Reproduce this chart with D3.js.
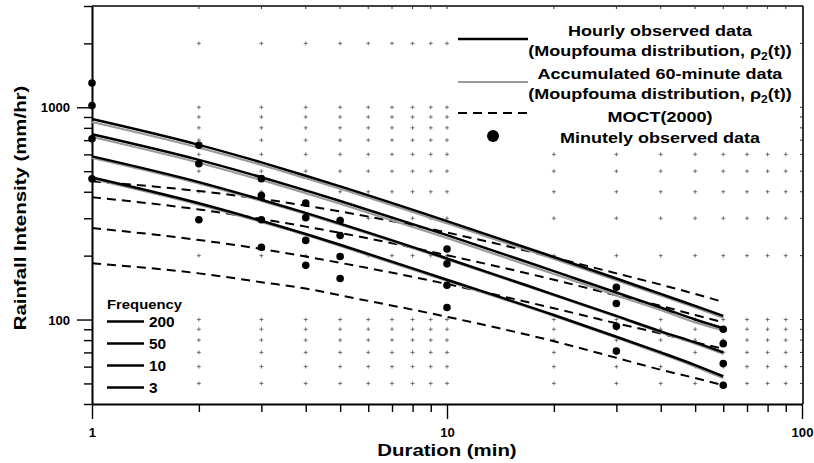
<!DOCTYPE html>
<html>
<head>
<meta charset="utf-8">
<script src="https://cdn.jsdelivr.net/npm/d3@7"></script>
<style>
  html, body { margin: 0; padding: 0; background: #fff; }
  svg { display: block; }
  text { font-family: "Liberation Sans", Arial, sans-serif; font-weight: bold; fill: #000; }
</style>
</head>
<body>
<svg id="chart" width="814" height="463"></svg>
<script>
// Durations (min) at which the curves are given
const durations = [1, 2, 3, 4, 5, 10, 20, 30, 40, 50, 60];

// Hourly observed data, Moupfouma distribution (mm/hr), by frequency
const hourly200 = [880, 665, 550, 476, 424, 291, 197, 156, 132, 116, 104];
const hourly50  = [746, 565, 468, 406, 362, 250, 169, 134, 114, 100, 91];
const hourly10  = [587, 444, 367, 318, 283, 194, 131, 104, 88, 78, 70];
const hourly3   = [467, 353, 292, 253, 225, 154, 105, 83, 70, 61, 54];

// Accumulated 60-minute data, Moupfouma distribution (mm/hr)
const accum200 = [852, 645, 535, 463, 413, 284, 193, 153, 130, 114, 102];
const accum50  = [724, 548, 454, 394, 351, 242, 164, 130, 111, 97, 89];
const accum10  = [578, 438, 362, 314, 280, 192, 130, 103, 87, 77, 69];
const accum3   = [460, 348, 288, 250, 222, 152, 104, 82, 69, 60, 53];

// MOCT(2000) curves (mm/hr)
const moct200 = [448, 403, 370, 344, 323, 257, 196, 165, 146, 132, 121];
const moct50  = [377, 330, 298, 274, 256, 201, 154, 130, 116, 105, 97];
const moct10  = [270, 237, 215, 198, 185, 147, 113, 96, 86, 78, 73];
const moct3   = [184, 165, 150, 140, 130, 103, 79, 66, 58, 53, 49];

// Minutely observed data (mm/hr); null where no point is shown
const obsDurations = [1, 2, 3, 4, 5, 10, 30, 60];
const obs200 = [1300, 662, 461, 354, 293, 215, 142, 90];
const obs50  = [1020, 542, 384, 302, 249, 183, 119, 77];
const obs10  = [710, null, 295, 236, 198, 145, 93, 62];
const obs3   = [460, 295, 219, 180, 156, 114, 71, 49];

// Axis ticks and labels
const xTicks = [1, 2, 3, 4, 5, 6, 7, 8, 9, 10, 20, 30, 40, 50, 60, 70, 80, 90, 100];
const xLabels = [1, 10, 100];
const yTicks = [40, 50, 60, 70, 80, 90, 100, 200, 300, 400, 500, 600, 700, 800, 900, 1000, 2000, 3000];
const yLabels = [100, 1000];
const frequencies = ["200", "50", "10", "3"];

const svg = d3.select("#chart");
const plotLeft = 92, plotRight = 803, plotTop = 6, plotBottom = 404;
const stretch = 1.2;   // the lettering is set slightly wide

const x = d3.scaleLog().domain([1, 100]).range([plotLeft, 802]);
const y = d3.scaleLog().domain([40, 3000]).range([plotBottom, plotTop]);

svg.append("rect").attr("width", 814).attr("height", 463).attr("fill", "#fff");

// wide bold label placed at (px, py)
function label(g, px, py, str, size, anchor, sx, rot) {
  const t = g.append("text")
    .attr("transform", `translate(${px},${py})${rot ? ` rotate(${rot})` : ""} scale(${sx},1)`)
    .attr("text-anchor", anchor || "start")
    .attr("font-size", size);
  if (str != null) t.text(str);
  return t;
}

// "+" grid markers at the interior grid intersections
const gx = xTicks.filter(d => d > 1 && d < 100);
const gy = yTicks.filter(d => d > 40 && d < 3000);
const grid = svg.append("g").attr("stroke", "#555").attr("stroke-width", 0.8);
gx.forEach(tx => gy.forEach(ty => {
  const px = x(tx), py = y(ty);
  grid.append("line").attr("x1", px - 2).attr("x2", px + 2).attr("y1", py).attr("y2", py);
  grid.append("line").attr("x1", px).attr("x2", px).attr("y1", py - 2).attr("y2", py + 2);
}));

// frame (top and right borders with inward ticks)
svg.append("line").attr("x1", plotLeft).attr("x2", plotRight).attr("y1", plotTop).attr("y2", plotTop)
  .attr("stroke", "#000").attr("stroke-width", 1.6);
svg.append("line").attr("x1", plotRight).attr("x2", plotRight).attr("y1", plotTop).attr("y2", plotBottom)
  .attr("stroke", "#000").attr("stroke-width", 1.6);
const inner = svg.append("g").attr("stroke", "#333").attr("stroke-width", 1);
gx.forEach(tx => inner.append("line").attr("x1", x(tx)).attr("x2", x(tx)).attr("y1", plotTop).attr("y2", plotTop + 3));
gy.forEach(ty => inner.append("line").attr("x1", plotRight - 3).attr("x2", plotRight).attr("y1", y(ty)).attr("y2", y(ty)));

// Axes
const xAxis = d3.axisBottom(x).tickValues(xTicks).tickFormat("").tickSizeOuter(0);
const gX = svg.append("g").attr("transform", `translate(0,${plotBottom})`).call(xAxis);
gX.selectAll(".tick line").attr("y2", d => xLabels.includes(d) ? 15 : 8).attr("stroke-width", 1.4);
gX.select(".domain").attr("stroke-width", 2);
gX.selectAll(".tick").filter(d => xLabels.includes(d)).each(function (d) {
  label(d3.select(this), 0, 33, String(d), 12.5, "middle", 1.05);
});

const yAxis = d3.axisLeft(y).tickValues(yTicks).tickFormat("").tickSizeOuter(0);
const gY = svg.append("g").attr("transform", `translate(${plotLeft},0)`).call(yAxis);
gY.selectAll(".tick line").attr("x2", d => yLabels.includes(d) ? -15 : -8).attr("stroke-width", 1.4);
gY.select(".domain").attr("stroke-width", 2);
gY.selectAll(".tick").filter(d => yLabels.includes(d)).each(function (d) {
  label(d3.select(this), -22, 4.5, String(d), 12.5, "end", 1.05);
});

// Axis titles
label(svg, 447, 456, "Duration (min)", 17, "middle", stretch);
label(svg, 26, 208, "Rainfall Intensity (mm/hr)", 17, "middle", stretch, -90);

// Curves
const line = d3.line().x(d => x(d[0])).y(d => y(d[1])).curve(d3.curveMonotoneX);
const plot = svg.append("g");

function curve(values, attrs) {
  const p = plot.append("path").datum(durations.map((t, i) => [t, values[i]]))
    .attr("d", line).attr("fill", "none");
  Object.entries(attrs).forEach(([k, v]) => p.attr(k, v));
}

const dashed = { stroke: "#000", "stroke-width": 2, "stroke-dasharray": "9,6" };
const accum = { stroke: "#9a9a9a", "stroke-width": 2.2 };
const solid = { stroke: "#000", "stroke-width": 2.5 };

[moct200, moct50, moct10, moct3].forEach(v => curve(v, dashed));
[accum200, accum50, accum10, accum3].forEach(v => curve(v, accum));
[hourly200, hourly50, hourly10, hourly3].forEach(v => curve(v, solid));

// Observed points
[obs200, obs50, obs10, obs3].forEach(series => {
  plot.selectAll(null)
    .data(obsDurations.map((t, i) => [t, series[i]]).filter(d => d[1] != null))
    .enter().append("circle")
    .attr("cx", d => x(d[0])).attr("cy", d => y(d[1])).attr("r", 3.8).attr("fill", "#000");
});

// Main legend
const lg = svg.append("g");
lg.append("rect").attr("x", 453).attr("y", 10).attr("width", 336).attr("height", 138).attr("fill", "#fff");
const lx = 660;
const legendRows = [
  [36, "Hourly observed data"],
  [56, null],
  [79, "Accumulated 60-minute data"],
  [99, null],
  [122, "MOCT(2000)"],
  [143, "Minutely observed data"]
];
legendRows.forEach(([yy, text]) => {
  const t = label(lg, lx, yy, text, 15, "middle", stretch);
  if (text == null) {
    t.append("tspan").text("(Moupfouma distribution, \u03C1");
    t.append("tspan").attr("font-size", 10).attr("dy", 4).text("2");
    t.append("tspan").attr("dy", -4).text("(t))");
  }
});
lg.append("line").attr("x1", 458).attr("x2", 528).attr("y1", 39).attr("y2", 39).attr("stroke", "#000").attr("stroke-width", 2.5);
lg.append("line").attr("x1", 458).attr("x2", 528).attr("y1", 82).attr("y2", 82).attr("stroke", "#9a9a9a").attr("stroke-width", 2.2);
lg.append("line").attr("x1", 458).attr("x2", 528).attr("y1", 113).attr("y2", 113).attr("stroke", "#000").attr("stroke-width", 2).attr("stroke-dasharray", "9,6");
lg.append("circle").attr("cx", 493).attr("cy", 136).attr("r", 6).attr("fill", "#000");

// Frequency legend
const fl = svg.append("g");
label(fl, 107, 309, "Frequency", 13.5, "start", 1.1);
frequencies.forEach((f, i) => {
  const yy = 321.5 + i * 22;
  fl.append("line").attr("x1", 107).attr("x2", 144).attr("y1", yy).attr("y2", yy).attr("stroke", "#000").attr("stroke-width", 2.5);
  label(fl, 149, yy + 5.5, f, 14, "start", 1.1);
});
</script>
</body>
</html>
